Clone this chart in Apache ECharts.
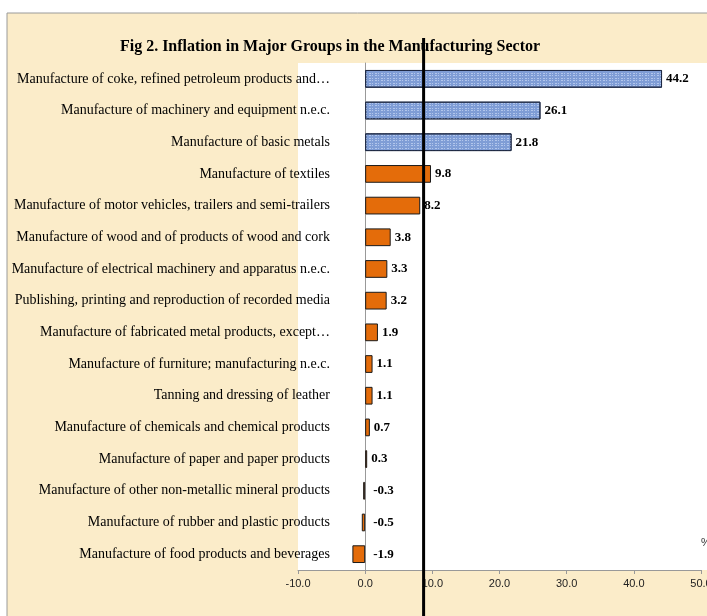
<!DOCTYPE html>
<html>
<head>
<meta charset="utf-8">
<script src="https://cdn.jsdelivr.net/npm/echarts@6/dist/echarts.min.js"></script>
<style>
html,body{margin:0;padding:0;background:#fff;}
#chart{width:707px;height:616px;}
</style>
</head>
<body>
<div id="chart"></div>
<script>
const categories = [
  "Manufacture of coke, refined petroleum products and…",
  "Manufacture of machinery and equipment n.e.c.",
  "Manufacture of basic metals",
  "Manufacture of textiles",
  "Manufacture of motor vehicles, trailers and semi-trailers",
  "Manufacture of wood and of products of wood and cork",
  "Manufacture of electrical machinery and apparatus n.e.c.",
  "Publishing, printing and reproduction of recorded media",
  "Manufacture of fabricated metal products, except…",
  "Manufacture of furniture; manufacturing n.e.c.",
  "Tanning and dressing of leather",
  "Manufacture of chemicals and chemical products",
  "Manufacture of paper and paper products",
  "Manufacture of other non-metallic mineral products",
  "Manufacture of rubber and plastic products",
  "Manufacture of food products and beverages"
];
const values = [44.2, 26.1, 21.8, 9.8, 8.2, 3.8, 3.3, 3.2, 1.9, 1.1, 1.1, 0.7, 0.3, -0.3, -0.5, -1.9];
const highlighted = [true, true, true, false, false, false, false, false, false, false, false, false, false, false, false, false];
const xTicks = [-10, 0, 10, 20, 30, 40, 50];
const overallInflation = [8.7];
const titleText = "Fig 2. Inflation in Major Groups in the Manufacturing Sector";

const chart = echarts.init(document.getElementById('chart'), null, {renderer: 'canvas'});

const blueStyle = {
  color: '#7f9dd6',
  borderColor: '#1f2a44',
  borderWidth: 1,
  decal: {
    symbol: 'rect',
    symbolSize: 1,
    color: 'rgba(200,215,245,0.7)',
    dashArrayX: [[1, 2, 2, 1]],
    dashArrayY: [1, 2, 1, 1],
    rotation: 0
  }
};
const orangeStyle = {color: '#e46c0a', borderColor: '#1a1a1a', borderWidth: 1};

const data = values.map((v, i) => ({
  value: v,
  itemStyle: highlighted[i] ? blueStyle : orangeStyle,
  label: {distance: v < 0 ? 8 : 4}
}));

const panel = {
  type: 'rect', z: -10, silent: true,
  shape: {x: 7, y: 13, width: 740, height: 640},
  style: {fill: '#fbecc9', stroke: '#9a9a9a', lineWidth: 1}
};

chart.setOption({
  backgroundColor: '#ffffff',
  animation: false,
  graphic: [panel],
  title: {
    text: titleText,
    left: 325, top: 34,
    textAlign: 'center',
    textStyle: {fontFamily: 'Liberation Serif', fontWeight: 'bold', fontSize: 16, color: '#000'}
  },
  grid: {
    left: 298, right: 6, top: 63, bottom: 46,
    containLabel: false,
    outerBoundsMode: 'none',
    show: true, backgroundColor: '#ffffff', borderWidth: 0
  },
  xAxis: {
    type: 'value',
    min: xTicks[0], max: xTicks[xTicks.length - 1], interval: 10,
    name: '%',
    nameLocation: 'end',
    nameGap: 0,
    nameTextStyle: {fontFamily: 'Liberation Sans', fontSize: 11, color: '#333', align: 'left', verticalAlign: 'bottom', padding: [0, 0, 22, 0]},
    axisLine: {show: true, lineStyle: {color: '#999'}},
    axisTick: {show: true, length: 4, lineStyle: {color: '#999'}},
    splitLine: {show: false},
    axisLabel: {
      fontFamily: 'Liberation Sans', fontSize: 11, color: '#222', margin: 8,
      formatter: v => v.toFixed(1)
    }
  },
  yAxis: {
    type: 'category',
    data: categories,
    inverse: true,
    axisLine: {show: true, lineStyle: {color: '#999'}},
    axisTick: {show: false},
    axisLabel: {
      fontFamily: 'Liberation Serif', fontSize: 14, color: '#000',
      margin: -32,
      hideOverlap: false
    },
    position: 'left'
  },
  series: [{
    type: 'bar',
    data: data,
    barWidth: '56%',
    label: {
      show: true,
      position: 'right',
      fontFamily: 'Liberation Serif', fontWeight: 'bold', fontSize: 13, color: '#000',
      formatter: p => p.value.toFixed(1)
    }
  }]
});

const lx = chart.convertToPixel({xAxisIndex: 0}, overallInflation[0]);
const gridRect = chart.getModel().getComponent('grid').coordinateSystem.getRect();
chart.setOption({
  graphic: [panel, {
    type: 'rect', z: -5, silent: true,
    shape: {x: gridRect.x + gridRect.width, y: gridRect.y, width: 20, height: gridRect.height},
    style: {fill: '#ffffff'}
  }, {
    type: 'line', z: 100, silent: true,
    shape: {x1: lx, y1: 38, x2: lx, y2: 616},
    style: {stroke: '#000', lineWidth: 3}
  }]
});
</script>
</body>
</html>
